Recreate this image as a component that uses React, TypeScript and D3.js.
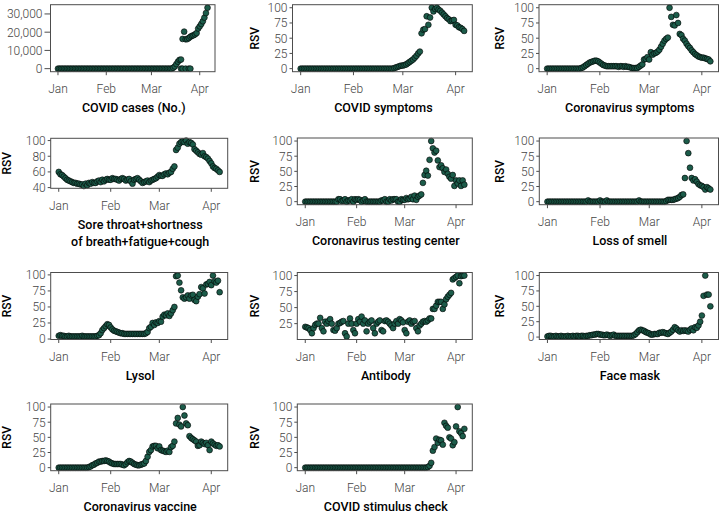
import React from "react";
import * as d3 from "d3";

// ---------- DATA (daily values from Jan 1, 2020) ----------
const START = new Date(2020, 0, 1);
const monthTicks = [new Date(2020, 0, 1), new Date(2020, 1, 1), new Date(2020, 2, 1), new Date(2020, 3, 1)];
const monthLabels = ["Jan", "Feb", "Mar", "Apr"];

const covidCases = [
  0, 0, 0, 0, 0, 0, 0, 0, 0, 0,
  0, 0, 0, 0, 0, 0, 0, 0, 0, 0,
  0, 0, 0, 0, 0, 0, 0, 0, 0, 0,
  0, 0, 0, 0, 0, 0, 0, 0, 0, 0,
  0, 0, 0, 0, 0, 0, 0, 0, 0, 0,
  0, 0, 0, 0, 0, 0, 0, 0, 0, 0,
  0, 0, 0, 0, 0, 0, 0, 0, 0, 0,
  0, 0, 0, 0, 500, 1200, 2500, 3800, 4800, 5000,
  16300, 20300, 16100, 16200, 16800, 17500, 18000, 18300, 18800, 19500,
  22000, 23200, 24500, 26000, 28000, 30500, 33400,
];
const casesExtraDays = [79, 80, 82, 84, 85];
const casesExtraValues = [0, 0, 0, 0, 0];

const covidSymptoms = [
  0, 0, 0, 0, 0, 0, 0, 0, 0, 0,
  0, 0, 0, 0, 0, 0, 0, 0, 0, 0,
  0, 0, 0, 0, 0, 0, 0, 0, 0, 0,
  0, 0, 0, 0, 0, 0, 0, 0, 0, 0,
  0, 0, 0, 0, 0, 0, 0, 0, 0, 0,
  0, 0, 0, 0, 0, 1, 2, 3, 4, 5,
  5, 6, 7, 9, 11, 13, 15, 18, 21, 25,
  28, 58, 64, 65, 86, 72, 84, 100, 94, 98,
  100, 97, 95, 92, 89, 86, 83, 81, 78, 79,
  80, 72, 71, 68, 67, 65, 62,
];

const coronaSymptoms = [
  0, 0, 0, 0, 0, 0, 0, 0, 0, 0,
  0, 0, 0, 0, 0, 0, 0, 0, 0, 0,
  1, 2, 4, 6, 8, 10, 11, 12, 13, 13,
  12, 10, 8, 6, 5, 4, 4, 4, 4, 4,
  4, 4, 3, 4, 4, 3, 4, 3, 3, 2,
  1, 1, 1, 1, 3, 5, 7, 15, 16, 19,
  15, 27, 23, 25, 26, 28, 31, 36, 41, 46,
  49, 51, 100, 85, 72, 71, 88, 75, 57, 55,
  49, 46, 41, 37, 34, 30, 27, 24, 22, 20,
  19, 18, 18, 17, 16, 15, 12,
];

const soreThroat = [
  60, 57, 56, 54, 52, 50, 49, 48, 47, 46,
  46, 45, 45, 44, 44, 42, 45, 43, 46, 45,
  47, 46, 46, 48, 49, 47, 50, 48, 50, 51,
  50, 50, 52, 51, 51, 50, 49, 51, 52, 51,
  49, 50, 51, 48, 45, 50, 51, 52, 50, 48,
  46, 47, 48, 49, 47, 49, 50, 51, 52, 54,
  56, 55, 55, 57, 58, 57, 59, 60, 64, 67,
  88, 91, 96, 98, 99, 98, 100, 96, 98, 97,
  95, 89, 87, 85, 83, 82, 84, 80, 79, 77,
  74, 71, 67, 65, 64, 62, 60,
];

const testingCenter = [
  0, 0, 0, 0, 0, 0, 0, 0, 0, 0,
  0, 0, 0, 0, 0, 0, 0, 0, 0, 0,
  4, 4, 1, 2, 4, 0, 2, 2, 4, 0,
  4, 3, 4, 3, 0, 2, 4, 0, 0, 0,
  0, 0, 0, 0, 0, 0, 2, 2, 4, 0,
  0, 4, 2, 4, 4, 4, 0, 0, 4, 3,
  3, 6, 4, 5, 8, 4, 10, 3, 8, 10,
  12, 31, 44, 51, 43, 69, 100, 88, 81, 84,
  68, 57, 60, 55, 49, 53, 46, 41, 38, 44,
  26, 35, 30, 35, 26, 35, 28,
];

const lossOfSmell = [
  0, 0, 0, 0, 0, 0, 0, 0, 0, 0,
  0, 0, 0, 0, 0, 0, 0, 0, 0, 0,
  0, 0, 0, 0, 2, 0, 0, 0, 0, 0,
  0, 2, 0, 0, 0, 2, 0, 0, 0, 0,
  0, 0, 0, 0, 0, 0, 0, 0, 0, 0,
  0, 0, 0, 0, 2, 0, 0, 0, 0, 0,
  0, 0, 0, 0, 0, 0, 0, 0, 0, 0,
  1, 3, 3, 3, 3, 4, 5, 6, 8, 11,
  12, 39, 100, 80, 56, 39, 35, 37, 33, 29,
  27, 26, 24, 20, 24, 22, 20,
];

const lysol = [
  5, 6, 5, 5, 4, 4, 5, 4, 4, 4,
  4, 4, 4, 4, 5, 4, 4, 4, 4, 4,
  4, 4, 4, 5, 6, 9, 14, 17, 20, 23,
  22, 18, 15, 13, 12, 11, 10, 9, 9, 8,
  8, 8, 8, 8, 8, 8, 8, 8, 8, 8,
  8, 8, 9, 11, 17, 19, 25, 22, 26, 25,
  28, 27, 35, 38, 37, 40, 36, 40, 45, 50,
  98, 99, 88, 76, 65, 63, 65, 68, 63, 68,
  69, 61, 59, 66, 70, 81, 79, 71, 85, 86,
  89, 84, 99, 90, 88, 91, 73,
];

const antibody = [
  20, 19, 18, 15, 10, 18, 23, 25, 25, 34,
  18, 13, 28, 25, 29, 32, 25, 15, 14, 18,
  25, 26, 28, 29, 10, 5, 25, 33, 25, 15,
  10, 25, 32, 28, 36, 25, 30, 13, 25, 28,
  30, 18, 10, 25, 28, 30, 15, 13, 29, 30,
  28, 25, 22, 18, 25, 29, 25, 32, 30, 27,
  15, 10, 28, 30, 25, 28, 29, 18, 13, 22,
  25, 28, 29, 28, 30, 33, 33, 48, 48, 53,
  59, 59, 59, 48, 55, 63, 67, 70, 73, 94,
  96, 98, 100, 88, 99, 100, 100,
];

const faceMask = [
  1, 2, 2, 1, 1, 2, 1, 1, 2, 1,
  1, 1, 2, 1, 1, 2, 1, 2, 2, 1,
  2, 2, 1, 2, 2, 3, 3, 4, 4, 5,
  5, 4, 4, 3, 3, 4, 3, 2, 3, 4,
  2, 2, 2, 2, 2, 2, 2, 2, 2, 2,
  2, 3, 5, 8, 11, 12, 11, 10, 8, 7,
  6, 4, 4, 5, 5, 5, 7, 7, 8, 7,
  6, 5, 7, 9, 12, 16, 14, 11, 9, 11,
  10, 11, 10, 9, 12, 14, 11, 16, 15, 19,
  25, 35, 67, 100, 69, 69, 50,
];

const vaccine = [
  0, 0, 0, 0, 0, 0, 0, 0, 0, 0,
  0, 0, 0, 0, 0, 0, 0, 0, 1, 2,
  4, 5, 7, 8, 10, 10, 11, 11, 12, 11,
  10, 8, 7, 6, 6, 6, 6, 6, 5, 4,
  6, 9, 11, 10, 8, 6, 5, 4, 4, 5,
  6, 7, 11, 18, 26, 29, 35, 36, 36, 32,
  35, 29, 28, 27, 26, 28, 26, 34, 36, 43,
  73, 82, 71, 68, 100, 86, 73, 70, 52, 49,
  47, 45, 43, 36, 37, 43, 41, 39, 41, 37,
  29, 43, 40, 38, 36, 37, 35,
];

const stimulusCheck = [
  0, 0, 0, 0, 0, 0, 0, 0, 0, 0,
  0, 0, 0, 0, 0, 0, 0, 0, 0, 0,
  0, 0, 0, 0, 0, 0, 0, 0, 0, 0,
  0, 0, 0, 0, 0, 0, 0, 0, 0, 0,
  0, 0, 0, 0, 0, 0, 0, 0, 0, 0,
  0, 0, 0, 0, 0, 0, 0, 0, 0, 0,
  0, 0, 0, 0, 0, 0, 0, 0, 0, 0,
  0, 0, 0, 0, 1, 3, 8, 28, 34, 48,
  41, 46, 45, 38, 74, 69, 66, 50, 48, 37,
  42, 68, 100, 60, 57, 52, 64,
];

const caseTicks = [0, 10000, 20000, 30000];
const rsvTicks = [0, 25, 50, 75, 100];
const soreTicks = [40, 60, 80, 100];

// ---------- LAYOUT ----------
type Panel = {
  title: string[];
  values: number[];
  ticks: number[];
  box: [number, number, number, number]; // left, top, right, bottom
  rsvX: number | null;
  tickLen: number;
  extraDays?: number[];
  extraValues?: number[];
};

const R1 = [4.7, 71.7];
const R2 = [138, 204.7];
const R3 = [272.5, 339.5];
const R4 = [404, 470.7];

const panels: Panel[] = [
  { title: ["COVID cases (No.)"], values: covidCases, ticks: caseTicks, box: [50.5, R1[0], 215, R1[1]], rsvX: null, tickLen: 6, extraDays: casesExtraDays, extraValues: casesExtraValues },
  { title: ["COVID symptoms"], values: covidSymptoms, ticks: rsvTicks, box: [292.5, R1[0], 472.3, R1[1]], rsvX: 254.5, tickLen: 3 },
  { title: ["Coronavirus symptoms"], values: coronaSymptoms, ticks: rsvTicks, box: [539, R1[0], 718.5, R1[1]], rsvX: 499.5, tickLen: 3 },
  { title: ["Sore throat+shortness", "of breath+fatigue+cough"], values: soreThroat, ticks: soreTicks, box: [50.7, 138.3, 227.7, 188.3], rsvX: 6.5, tickLen: 3 },
  { title: ["Coronavirus testing center"], values: testingCenter, ticks: rsvTicks, box: [297.3, R2[0], 472.3, R2[1]], rsvX: 254.5, tickLen: 3 },
  { title: ["Loss of smell"], values: lossOfSmell, ticks: rsvTicks, box: [539.3, R2[0], 718.5, R2[1]], rsvX: 499.5, tickLen: 3 },
  { title: ["Lysol"], values: lysol, ticks: rsvTicks, box: [50.7, R3[0], 227.7, R3[1]], rsvX: 6.5, tickLen: 3 },
  { title: ["Antibody"], values: antibody, ticks: rsvTicks, box: [297.3, R3[0], 472.3, R3[1]], rsvX: 254.5, tickLen: 3 },
  { title: ["Face mask"], values: faceMask, ticks: rsvTicks, box: [539.3, R3[0], 718.5, R3[1]], rsvX: 499.5, tickLen: 3 },
  { title: ["Coronavirus vaccine"], values: vaccine, ticks: rsvTicks, box: [50.7, R4[0], 227.7, R4[1]], rsvX: 6.5, tickLen: 3 },
  { title: ["COVID stimulus check"], values: stimulusCheck, ticks: rsvTicks, box: [297.3, R4[0], 472.3, R4[1]], rsvX: 254.5, tickLen: 3 },
];

const FONT = "Roboto, 'DejaVu Sans', sans-serif";
const DOT_FILL = "#1c5c4a";
const AXIS_COL = "#4d4d4d";
const TICK_TEXT = "#444444";

function PanelView({ p }: { p: Panel }) {
  const [l, t, r, b] = p.box;
  const n = p.values.length;
  const lastDay = d3.timeDay.offset(START, n - 1);
  const span = +lastDay - +START;
  const x = d3
    .scaleTime()
    .domain([new Date(+START - 0.05 * span), new Date(+lastDay + 0.05 * span)])
    .range([l, r]);
  const all = p.values.concat(p.extraValues || []);
  const [mn, mx] = d3.extent(all) as [number, number];
  const pad = (mx - mn) * 0.05;
  const y = d3.scaleLinear().domain([mn - pad, mx + pad]).range([b, t]);
  const fmt = mx > 1000 ? d3.format(",") : d3.format("d");

  const points = p.values.map((v, i) => ({ d: d3.timeDay.offset(START, i), v }));
  const extras = (p.extraDays || []).map((dd, i) => ({ d: d3.timeDay.offset(START, dd), v: (p.extraValues || [])[i] }));

  const yTicks = p.ticks.filter((tk) => tk >= y.domain()[0] && tk <= y.domain()[1]);
  const cx = (l + r) / 2;

  return (
    <g>
      {points.concat(extras).map((pt, i) => (
        <circle key={i} cx={x(pt.d)} cy={y(pt.v)} r={2.9} fill={DOT_FILL} stroke="#000" strokeWidth={0.6} />
      ))}
      <rect x={l} y={t} width={r - l} height={b - t} fill="none" stroke={AXIS_COL} strokeWidth={1} />
      {yTicks.map((tk) => (
        <g key={"y" + tk}>
          <line x1={l - p.tickLen} x2={l} y1={y(tk)} y2={y(tk)} stroke={AXIS_COL} strokeWidth={1} />
          <text x={l - p.tickLen - 2} y={y(tk)} dy="0.36em" textAnchor="end" fontSize={12} fontWeight={300} fill={TICK_TEXT} fontFamily={FONT}>
            {fmt(tk)}
          </text>
        </g>
      ))}
      {monthTicks.map((m, i) => (
        <g key={"x" + i}>
          <line x1={x(m)} x2={x(m)} y1={b} y2={b + 3.5} stroke={AXIS_COL} strokeWidth={1} />
          <text x={x(m)} y={b + 21.5} textAnchor="middle" fontSize={12} fontWeight={300} fill={TICK_TEXT} fontFamily={FONT}>
            {monthLabels[i]}
          </text>
        </g>
      ))}
      {p.rsvX !== null && (
        <text
          transform={`translate(${p.rsvX},${(t + b) / 2}) rotate(-90)`}
          dy="0.36em"
          textAnchor="middle"
          fontSize={12}
          fontWeight={500}
          fill="#000"
          fontFamily={FONT}
        >
          RSV
        </text>
      )}
      {p.title.map((line, i) => (
        <text key={"t" + i} x={cx + 1} y={b + 40.7 + i * 16.7} textAnchor="middle" fontSize={12.5} fontWeight={500} fill="#000" fontFamily={FONT}>
          {line}
        </text>
      ))}
    </g>
  );
}

export default function App() {
  return (
    <svg
      width={720}
      height={516}
      viewBox="0 0 720 516"
      style={{ position: "absolute", left: 0, top: 0, background: "#fff" }}
    >
      <rect x={0} y={0} width={720} height={516} fill="#fff" />
      {panels.map((p, i) => (
        <PanelView key={i} p={p} />
      ))}
    </svg>
  );
}
